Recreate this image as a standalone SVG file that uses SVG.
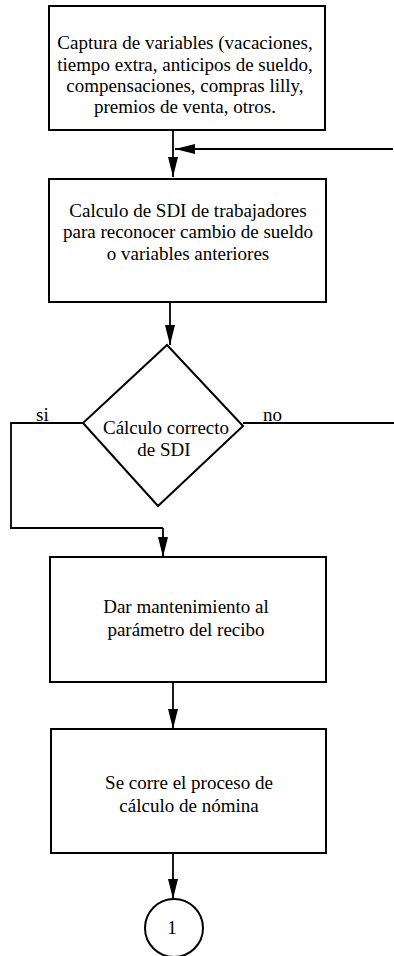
<svg xmlns="http://www.w3.org/2000/svg" width="394" height="956" viewBox="0 0 394 956">
<defs>
<style>
.box{fill:#fff;stroke:#000;stroke-width:2}
.ln{fill:none;stroke:#000;stroke-width:1.8}
.t{font-family:"Liberation Serif","Times New Roman",serif;font-size:19px;fill:#000;text-anchor:middle}
.lbl{font-family:"Liberation Serif","Times New Roman",serif;font-size:19px;fill:#000}
</style>
<marker id="ah" viewBox="0 0 20 10" refX="20" refY="5" markerWidth="20" markerHeight="10" markerUnits="userSpaceOnUse" orient="auto">
<path d="M0,0 L20,5 L0,10 Z" fill="#000"/>
</marker>
</defs>
<g id="connectors">
<line class="ln" x1="173" y1="130" x2="173" y2="177" marker-end="url(#ah)"/>
<line class="ln" x1="393" y1="149" x2="175" y2="149" marker-end="url(#ah)"/>
<line class="ln" x1="170" y1="302" x2="170" y2="345" marker-end="url(#ah)"/>
<polyline class="ln" points="83,423 11,423 11,528 163,528"/>
<line class="ln" x1="163" y1="528" x2="163" y2="557" marker-end="url(#ah)"/>
<line class="ln" x1="243" y1="423" x2="394" y2="423"/>
<line class="ln" x1="173" y1="682" x2="173" y2="729" marker-end="url(#ah)"/>
<line class="ln" x1="173" y1="853" x2="173" y2="899" marker-end="url(#ah)"/>
<text class="lbl" x="36" y="421">si</text>
<text class="lbl" x="263" y="421">no</text>
</g>
<g id="n1">
<rect class="box" x="49" y="6" width="276" height="124"/>
<text class="t" x="185" y="49">Captura de variables (vacaciones,</text>
<text class="t" x="185" y="71">tiempo extra, anticipos de sueldo,</text>
<text class="t" x="185" y="92">compensaciones, compras lilly,</text>
<text class="t" x="185" y="113">premios de venta, otros.</text>
</g>
<g id="n2">
<rect class="box" x="49" y="179" width="277" height="123"/>
<text class="t" x="188" y="217">Calculo de SDI de trabajadores</text>
<text class="t" x="188" y="238">para reconocer cambio de sueldo</text>
<text class="t" x="188" y="260">o variables anteriores</text>
</g>
<g id="n3">
<polygon class="box" points="167,345 243,426 158,506 83,423"/>
<text class="t" x="166" y="434">Cálculo correcto</text>
<text class="t" x="164" y="456">de SDI</text>
</g>
<g id="n4">
<rect class="box" x="50" y="557" width="276" height="125"/>
<text class="t" x="186" y="613">Dar mantenimiento al</text>
<text class="t" x="186" y="636">parámetro del recibo</text>
</g>
<g id="n5">
<rect class="box" x="51" y="729" width="275" height="124"/>
<text class="t" x="189" y="789">Se corre el proceso de</text>
<text class="t" x="189" y="812">cálculo de nómina</text>
</g>
<g id="n6">
<circle class="box" cx="174" cy="928" r="29" stroke-width="1.5"/>
<text class="t" x="172" y="934">1</text>
</g>
</svg>
